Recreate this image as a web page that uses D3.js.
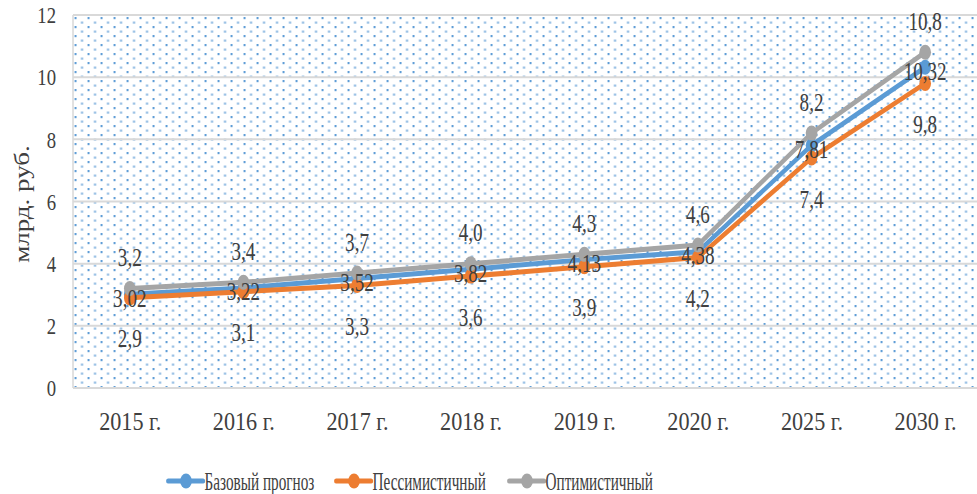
<!DOCTYPE html>
<html>
<head>
<meta charset="utf-8">
<script src="https://cdn.jsdelivr.net/npm/d3@7"></script>
<style>
  body { margin: 0; background: #fff; }
  svg { display: block; }
</style>
</head>
<body>
<div id="chart"></div>
<script>
const years = ["2015 г.", "2016 г.", "2017 г.", "2018 г.", "2019 г.", "2020 г.", "2025 г.", "2030 г."];
const baseValues = [3.02, 3.22, 3.52, 3.82, 4.13, 4.38, 7.81, 10.32];
const pessValues = [2.9, 3.1, 3.3, 3.6, 3.9, 4.2, 7.4, 9.8];
const optValues = [3.2, 3.4, 3.7, 4.0, 4.3, 4.6, 8.2, 10.8];
const yTicks = [0, 2, 4, 6, 8, 10, 12];
const seriesNames = ["Базовый прогноз", "Пессимистичный", "Оптимистичный"];

// the source picture is squeezed horizontally, so draw wide and squash it
const squeeze = 0.78;
const width = 977, height = 494;
const vw = width / squeeze;
const vx = (px) => px / squeeze;

const colors = {
	base: "#5b9bd5",
	pess: "#ed7d31",
	opt: "#a5a5a5",
	grid: "#d9d9d9",
	text: "#404040",
	dots: "#5b9bd5",
};
const font = "'Liberation Serif', 'Times New Roman', serif";

const plot = { left: vx(73), right: vx(982), top: 15, bottom: 388 };

const svg = d3.select("#chart")
	.append("svg")
	.attr("width", width)
	.attr("height", height)
	.attr("viewBox", `0 0 ${vw} ${height}`)
	.attr("preserveAspectRatio", "none");

// dotted fill of the plot area
const pat = svg.append("defs").append("pattern")
	.attr("id", "dots")
	.attr("patternUnits", "userSpaceOnUse")
	.attr("x", plot.left + 2)
	.attr("y", plot.top + 2)
	.attr("width", vx(13))
	.attr("height", 9);
pat.append("rect").attr("x", 0).attr("y", 0).attr("width", 2.5).attr("height", 2.2).attr("fill", colors.dots);
pat.append("rect").attr("x", vx(6.5)).attr("y", 4.5).attr("width", 2.5).attr("height", 2.2).attr("fill", colors.dots).attr("opacity", 0.8);

const x = d3.scalePoint()
	.domain(years)
	.range([plot.left, plot.right])
	.padding(0.5);

const y = d3.scaleLinear()
	.domain([0, 12])
	.range([plot.bottom, plot.top]);

svg.append("rect")
	.attr("x", plot.left)
	.attr("y", plot.top)
	.attr("width", plot.right - plot.left)
	.attr("height", plot.bottom - plot.top)
	.attr("fill", "url(#dots)");

// gridlines
svg.append("g")
	.selectAll("line")
	.data(yTicks)
	.enter()
	.append("line")
	.attr("x1", plot.left)
	.attr("x2", plot.right)
	.attr("y1", (d) => y(d))
	.attr("y2", (d) => y(d))
	.attr("stroke", colors.grid)
	.attr("stroke-width", 2);

svg.append("line")
	.attr("x1", plot.left)
	.attr("x2", plot.left)
	.attr("y1", plot.top)
	.attr("y2", plot.bottom)
	.attr("stroke", colors.grid)
	.attr("stroke-width", 2);

// y axis
const yAxis = svg.append("g")
	.attr("transform", `translate(${vx(56)},0)`)
	.call(d3.axisLeft(y).tickValues(yTicks).tickSize(0).tickPadding(0));
yAxis.select(".domain").remove();
yAxis.selectAll("text")
	.attr("fill", colors.text)
	.style("font-family", font)
	.style("font-size", "24px");

// x axis
const xAxis = svg.append("g")
	.attr("transform", `translate(0,${plot.bottom + 25})`)
	.call(d3.axisBottom(x).tickSize(0).tickPadding(0));
xAxis.select(".domain").remove();
xAxis.selectAll("text")
	.attr("fill", colors.text)
	.attr("transform", "scale(1.16,1)")
	.style("font-family", font)
	.style("font-size", "24.5px");

svg.append("text")
	.attr("transform", `translate(${vx(29)},${204}) rotate(-90)`)
	.attr("text-anchor", "middle")
	.attr("fill", colors.text)
	.style("font-family", font)
	.style("font-size", "27px")
	.text("млрд. руб.");

const series = [
	{ name: seriesNames[0], values: baseValues, color: colors.base, dy: 4 },
	{ name: seriesNames[1], values: pessValues, color: colors.pess, dy: 41 },
	{ name: seriesNames[2], values: optValues, color: colors.opt, dy: -31 },
];

const line = d3.line()
	.x((d, i) => x(years[i]))
	.y((d) => y(d));

series.forEach((s) => {
	const g = svg.append("g");
	g.append("path")
		.datum(s.values)
		.attr("d", line)
		.attr("fill", "none")
		.attr("stroke", s.color)
		.attr("stroke-width", 5)
		.attr("stroke-linejoin", "round");
	g.selectAll("circle")
		.data(s.values)
		.enter()
		.append("circle")
		.attr("cx", (d, i) => x(years[i]))
		.attr("cy", (d) => y(d))
		.attr("r", 7.5)
		.attr("fill", s.color);
});

// data labels
series.forEach((s) => {
	svg.append("g")
		.selectAll("text")
		.data(s.values)
		.enter()
		.append("text")
		.attr("x", (d, i) => x(years[i]))
		.attr("y", (d) => y(d) + s.dy)
		.attr("dy", "0.35em")
		.attr("text-anchor", "middle")
		.attr("fill", colors.text)
		.style("font-family", font)
		.style("font-size", "24.5px")
		.text((d) => (s === series[0] ? d.toFixed(2) : d.toFixed(1)).replace(".", ","));
});

// legend
const legendX = [204, 372, 545];
const legend = svg.append("g")
	.selectAll("g")
	.data(series)
	.enter()
	.append("g")
	.attr("transform", (d, i) => `translate(${vx(legendX[i])},481)`);
legend.append("line")
	.attr("x1", vx(-36))
	.attr("x2", -1)
	.attr("stroke", (d) => d.color)
	.attr("stroke-width", 5)
	.attr("stroke-linecap", "round");
legend.append("circle")
	.attr("cx", vx(-18))
	.attr("r", 7.5)
	.attr("fill", (d) => d.color);
legend.append("text")
	.attr("x", 1)
	.attr("dy", "0.35em")
	.attr("transform", "scale(0.78,1)")
	.attr("fill", colors.text)
	.style("font-family", font)
	.style("font-size", "25px")
	.text((d) => d.name);
</script>
</body>
</html>
